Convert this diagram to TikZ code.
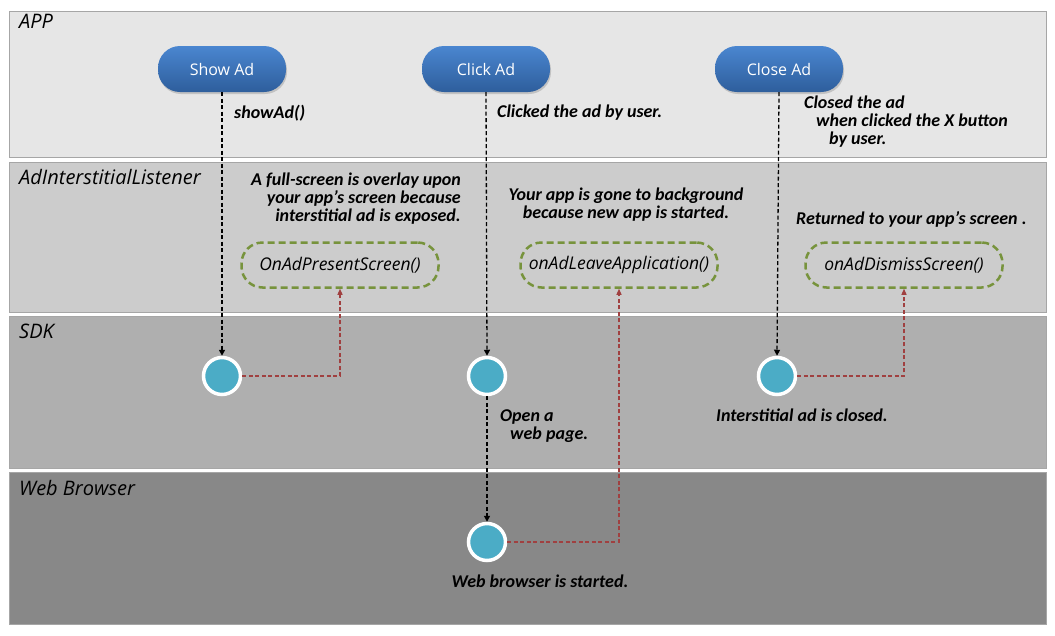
\documentclass[tikz,border=0pt]{standalone}
\usepackage{fontspec}
\usepackage{xcolor}
\usepackage{tikz}
\usetikzlibrary{arrows.meta,positioning,shadows}
\newfontfamily\notefont{Carlito}
\newfontfamily\lanefont{Open Sans}
\definecolor{laneA}{HTML}{E6E6E6}
\definecolor{laneB}{HTML}{CCCCCC}
\definecolor{laneC}{HTML}{AFAFAF}
\definecolor{laneD}{HTML}{888888}
\definecolor{btntop}{HTML}{4A86D0}
\definecolor{btnbot}{HTML}{2E5E9C}
\definecolor{evfill}{HTML}{4BACC6}
\definecolor{cbgreen}{HTML}{77933C}
\definecolor{cbred}{HTML}{A04040}
\tikzset{
  lane/.style={draw=black!35, line width=1pt},
  lanelbl/.style={anchor=west, inner sep=0pt, font=\lanefont\itshape\fontsize{20}{22}\selectfont},
  btn/.style={rectangle, rounded corners=22pt, minimum width=128pt, minimum height=46pt,
    top color=btntop, bottom color=btnbot, draw=none, text=white,
    font=\lanefont\fontsize{16}{18}\selectfont,
    drop shadow={shadow xshift=1pt, shadow yshift=-2pt, opacity=0.35}},
  cb/.style={rectangle, rounded corners=21pt, minimum width=197pt, minimum height=45pt,
    draw=cbgreen, line width=2.5pt, dash pattern=on 7pt off 4pt,
    font=\lanefont\itshape\fontsize{17.5}{20}\selectfont},
  ev/.style={circle, fill=evfill, draw=white, line width=3.5pt, minimum size=37pt,
    inner sep=0pt, drop shadow={shadow xshift=1pt, shadow yshift=-1.5pt, opacity=0.35}},
  note/.style={font=\notefont\bfseries\itshape\fontsize{18}{18}\selectfont, inner sep=0pt},
  call/.style={-{Triangle[length=6pt,width=6pt]}, draw=black, line width=1.3pt,
    dash pattern=on 4pt off 2.5pt},
  back/.style={-{Triangle[length=6pt,width=5pt]}, draw=cbred, line width=1.2pt,
    dash pattern=on 4pt off 2.5pt},
}
\begin{document}
\begin{tikzpicture}[x=1pt, y=-1pt]
  \useasboundingbox (0,0) rectangle (1055,635);
  % swim lanes
  \draw[lane, fill=laneA] (9,11) rectangle (1046,157);
  \draw[lane, fill=laneB] (9,162) rectangle (1046,312);
  \draw[lane, fill=laneC] (9,316) rectangle (1046,468);
  \draw[lane, fill=laneD] (9,472) rectangle (1046,624);
  \node[lanelbl] (lapp) at (19,21) {APP};
  \node[lanelbl] (llis) at (19,177) {AdInterstitialListener};
  \node[lanelbl] (lsdk) at (19,331) {SDK};
  \node[lanelbl] (lweb) at (19,488) {Web Browser};

  % app actions
  \node[btn] (show) at (222,69) {Show Ad};
  \node[btn] (click) at (486,69) {Click Ad};
  \node[btn] (close) at (779,69) {Close Ad};

  % listener callbacks
  \node[cb] (present) at (340,265) {OnAdPresentScreen()};
  \node[cb] (leave) at (619,265) {onAdLeaveApplication()};
  \node[cb] (dismiss) at (904,265) {onAdDismissScreen()};

  % sdk / browser events
  \node[ev] (evshow) at (222,376) {};
  \node[ev] (evclick) at (487,376) {};
  \node[ev] (evclose) at (777,376) {};
  \node[ev] (evweb) at (487,542) {};

  \draw[call] (show.south) -- (evshow.north);
  \draw[call] (click.south) -- (evclick.north);
  \draw[call] (close.south) -- (evclose.north);
  \draw[call] (evclick.south) -- (evweb.north);
  \draw[back] (evshow.east) -| (present.south);
  \draw[back] (evclose.east) -| (dismiss.south);
  \draw[back] (evweb.east) -| (leave.south);

  % notes
  \node[note, anchor=west] (nshow) at (234,113) {showAd()};
  \node[note, anchor=west] (nclick) at (497,113) {Clicked the ad by user.};
  \node[note, anchor=north west, align=left] (nclose) at (804,96)
    {Closed the ad\\\hspace*{12pt}when clicked the X button\\\hspace*{25pt}by user.};
  \node[note, anchor=east, align=right] (npresent) at (461,199)
    {A full-screen is overlay upon\\your app’s screen because\\interstitial ad is exposed.};
  \node[note, align=center] (nleave) at (626,205)
    {Your app is gone to background\\because new app is started.};
  \node[note, anchor=west] (ndismiss) at (796,219) {Returned to your app’s screen .};
  \node[note, anchor=north west, align=left] (nopen) at (500,409)
    {Open a\\\hspace*{10pt}web page.};
  \node[note] (nclosed) at (802,415) {Interstitial ad is closed.};
  \node[note] (nweb) at (540,581) {Web browser is started.};
\end{tikzpicture}
\end{document}
